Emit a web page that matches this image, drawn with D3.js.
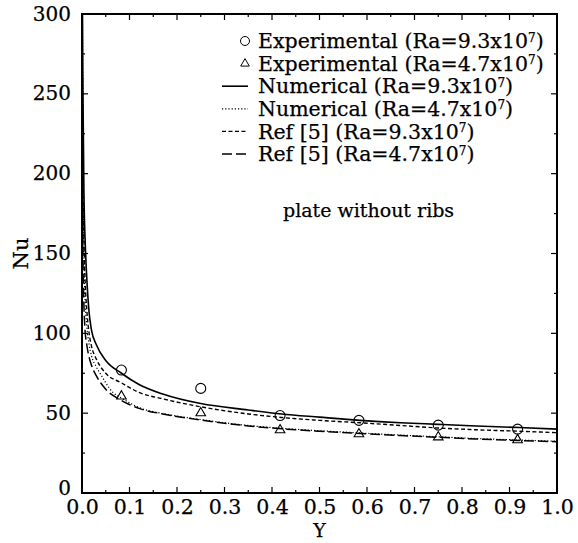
<!DOCTYPE html>
<html><head><meta charset="utf-8">
<script src="https://cdn.jsdelivr.net/npm/d3@7"></script>
<style>body{margin:0;background:#fff}svg{display:block}text{font-family:"DejaVu Serif",serif;fill:#000;stroke:#000;stroke-width:0.25px}</style>
</head><body><svg id="c" width="578" height="543"></svg>
<script>
// ---- data ----
const expX = [0.083, 0.25, 0.417, 0.583, 0.75, 0.917];
const exp93 = [77, 65.5, 48.5, 45.5, 42.5, 40];
const exp47 = [60, 49.5, 38.8, 36.3, 34.4, 32.6];

const num93X = [0.001, 0.002, 0.004, 0.007, 0.01, 0.015, 0.02, 0.03, 0.05, 0.083, 0.12, 0.17, 0.25, 0.35, 0.42, 0.5, 0.585, 0.67, 0.75, 0.83, 0.92, 1.0];
const num93Y = [300, 250, 190, 155, 135, 113, 102, 93, 83, 75, 68, 62, 56, 52, 49.5, 47.5, 45.5, 44, 43, 42, 41, 40];

const num47X = [0.001, 0.002, 0.004, 0.006, 0.01, 0.015, 0.02, 0.03, 0.04, 0.05, 0.065, 0.083, 0.12, 0.17, 0.25, 0.35, 0.42, 0.5, 0.585, 0.67, 0.75, 0.83, 0.92, 1.0];
const num47Y = [300, 220, 150, 125, 105, 93, 86, 79, 74, 69, 63, 59.5, 53.5, 49.8, 46, 42.3, 40.5, 39, 37.6, 36.3, 35.2, 34.1, 33.2, 32.4];

const ref93X = [0.001, 0.002, 0.004, 0.007, 0.01, 0.015, 0.02, 0.03, 0.05, 0.083, 0.12, 0.17, 0.25, 0.35, 0.42, 0.5, 0.585, 0.67, 0.75, 0.83, 0.92, 1.0];
const ref93Y = [260, 200, 160, 130, 115, 100, 92, 84, 75, 69, 63, 59, 54, 49.5, 47.3, 45.5, 44, 42.3, 40.7, 39.6, 38.7, 37.8];

const ref47X = [0.001, 0.002, 0.004, 0.006, 0.01, 0.015, 0.02, 0.03, 0.05, 0.083, 0.12, 0.17, 0.25, 0.35, 0.42, 0.5, 0.585, 0.67, 0.75, 0.83, 0.92, 1.0];
const ref47Y = [190, 150, 118, 104, 93, 85, 80, 73.5, 65, 58, 53, 49.5, 45.7, 42, 40.2, 38.7, 37.3, 36, 34.9, 33.8, 32.9, 32.1];

const xTicks = [0, 0.1, 0.2, 0.3, 0.4, 0.5, 0.6, 0.7, 0.8, 0.9, 1.0];
const yTicks = [0, 50, 100, 150, 200, 250, 300];
const legendLabels = ["Experimental (Ra=9.3x10", "Experimental (Ra=4.7x10", "Numerical (Ra=9.3x10", "Numerical (Ra=4.7x10", "Ref [5] (Ra=9.3x10", "Ref [5] (Ra=4.7x10"];
const annotation = "plate without ribs";

// ---- layout ----
const L = 82, R = 557, T = 14, B = 493;
const svg = d3.select("#c");
const x = d3.scaleLinear().domain([0, 1]).range([L, R]);
const y = d3.scaleLinear().domain([0, 300]).range([B, T]);

svg.append("defs").append("clipPath").attr("id", "clip")
  .append("rect").attr("x", L).attr("y", T).attr("width", R - L).attr("height", B - T);

// ticks (inward) on all four sides
const minorX = d3.range(0, 1.0001, 0.05);
const minorY = d3.range(0, 300.1, 25);
const tg = svg.append("g").attr("stroke", "#000").attr("stroke-width", 1.2);
minorX.forEach((v, i) => {
  const len = (i % 2 === 0) ? 6 : 3;
  tg.append("line").attr("x1", x(v)).attr("x2", x(v)).attr("y1", B).attr("y2", B - len);
  tg.append("line").attr("x1", x(v)).attr("x2", x(v)).attr("y1", T).attr("y2", T + len);
});
minorY.forEach((v, i) => {
  const len = (i % 2 === 0) ? 6 : 3;
  tg.append("line").attr("y1", y(v)).attr("y2", y(v)).attr("x1", L).attr("x2", L + len);
  tg.append("line").attr("y1", y(v)).attr("y2", y(v)).attr("x1", R).attr("x2", R - len);
});

// axes labels via d3 axes (tick lines hidden)
const xAxis = svg.append("g").attr("transform", `translate(0,${B})`)
  .call(d3.axisBottom(x).tickValues(xTicks).tickFormat(d3.format(".1f")).tickSize(0).tickPadding(6));
const yAxis = svg.append("g").attr("transform", `translate(${L},0)`)
  .call(d3.axisLeft(y).tickValues(yTicks).tickFormat(d3.format("d")).tickSize(0).tickPadding(11));
[xAxis, yAxis].forEach(a => {
  a.select(".domain").remove();
  a.selectAll("text").attr("font-family", "DejaVu Serif").attr("font-size", 20.5).attr("fill", "#000");
});
xAxis.selectAll("text").attr("dy", "0.71em");
yAxis.selectAll("text").attr("font-size", 20).attr("dy", "0.3em");
yAxis.selectAll("text").filter(d => d === 0).attr("dy", "0.05em");

// frame
svg.append("rect").attr("x", L).attr("y", T).attr("width", R - L).attr("height", B - T)
  .attr("fill", "none").attr("stroke", "#000").attr("stroke-width", 2);

// axis titles
svg.append("text").attr("x", x(0.5)).attr("y", 537).attr("text-anchor", "middle")
  .attr("font-size", 19).text("Y");
svg.append("text").attr("transform", `translate(28,${y(150)}) rotate(-90)`)
  .attr("text-anchor", "middle").attr("font-size", 21).text("Nu");

// curves
const styles = [
  {X: num93X, Y: num93Y, dash: null, w: 1.6},
  {X: num47X, Y: num47Y, dash: "1.2,2", w: 1.2},
  {X: ref93X, Y: ref93Y, dash: "4,2.5", w: 1.4},
  {X: ref47X, Y: ref47Y, dash: "10,4", w: 1.5}
];
const line = d3.line().x(d => x(d[0])).y(d => y(d[1])).curve(d3.curveMonotoneX);
const cg = svg.append("g").attr("clip-path", "url(#clip)");
styles.forEach(s => {
  cg.append("path").datum(s.X.map((v, i) => [v, s.Y[i]]))
    .attr("d", line).attr("fill", "none").attr("stroke", "#000")
    .attr("stroke-width", s.w).attr("stroke-dasharray", s.dash);
});

// markers
const tri = d3.symbol().type(d3.symbolTriangle).size(40);
svg.append("g").selectAll("circle").data(expX.map((v, i) => [v, exp93[i]])).join("circle")
  .attr("cx", d => x(d[0])).attr("cy", d => y(d[1])).attr("r", 5)
  .attr("fill", "none").attr("stroke", "#000").attr("stroke-width", 1.1);
svg.append("g").selectAll("path").data(expX.map((v, i) => [v, exp47[i]])).join("path")
  .attr("d", tri).attr("transform", d => `translate(${x(d[0])},${y(d[1]) - 1})`)
  .attr("fill", "none").attr("stroke", "#000").attr("stroke-width", 1.1);

// legend
const lg = svg.append("g");
const ly0 = 41, ldy = 22.6, tx = 258;
legendLabels.forEach((lab, i) => {
  const yy = ly0 + i * ldy;
  const t = lg.append("text").attr("x", tx).attr("y", yy).attr("dy", "0.35em").attr("font-size", 20.5);
  t.append("tspan").text(lab);
  t.append("tspan").attr("font-size", 12).attr("dy", "-0.55em").text("7");
  t.append("tspan").attr("dy", "0.32em").text(")");
  if (i === 0) {
    lg.append("circle").attr("cx", 245).attr("cy", yy).attr("r", 4.5)
      .attr("fill", "none").attr("stroke", "#000").attr("stroke-width", 1);
  } else if (i === 1) {
    lg.append("path").attr("d", d3.symbol().type(d3.symbolTriangle).size(32))
      .attr("transform", `translate(245,${yy})`).attr("fill", "none").attr("stroke", "#000");
  } else {
    const s = styles[i - 2];
    lg.append("line").attr("x1", 222).attr("x2", 248).attr("y1", yy).attr("y2", yy)
      .attr("stroke", "#000").attr("stroke-width", s.w).attr("stroke-dasharray", s.dash);
  }
});

svg.append("text").attr("x", 283).attr("y", 217).attr("font-size", 19).text(annotation);
</script></body></html>
